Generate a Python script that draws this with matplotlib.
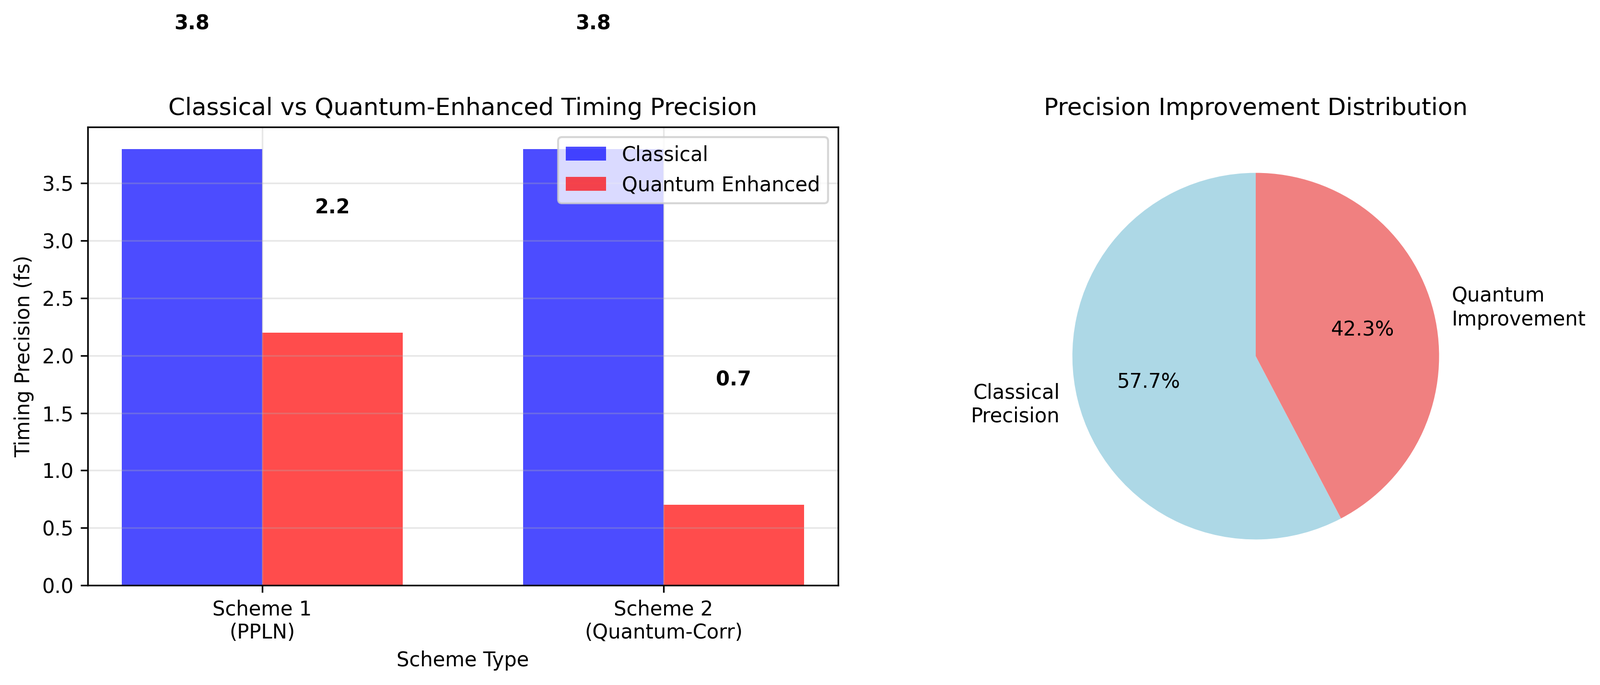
import matplotlib
matplotlib.use("Agg")
import matplotlib.pyplot as plt
import numpy as np

schemes = ["Scheme 1\n(PPLN)", "Scheme 2\n(Quantum-Corr)"]
classical = [3.8, 3.8]
quantum = [2.2, 0.7]
pie_labels = ["Classical\nPrecision", "Quantum\nImprovement"]
pie_values = [57.7, 42.3]
pie_colors = ["lightblue", "lightcoral"]

W, H = 3337, 1429
dpi = 300
fig = plt.figure(figsize=(W / dpi, H / dpi), dpi=dpi)

L, R, T, B = 183, 1748, 265, 1221
ax1 = fig.add_axes([L / W, 1 - B / H, (R - L) / W, (B - T) / H])
x = np.arange(len(schemes))
width = 0.35
b1 = ax1.bar(x - width / 2, classical, width, label="Classical", color="blue", alpha=0.7)
b2 = ax1.bar(x + width / 2, quantum, width, label="Quantum Enhanced", color="red", alpha=0.7)
for bars in (b1, b2):
    for bar in bars:
        h = bar.get_height()
        ax1.text(bar.get_x() + bar.get_width() / 2, h + 1.0, f"{h:.1f}",
                 ha="center", va="bottom", fontweight="bold", fontsize=10)
ax1.set_xticks(x)
ax1.set_xticklabels(schemes)
ax1.set_xlabel("Scheme Type")
ax1.set_ylabel("Timing Precision (fs)")
ax1.set_title("Classical vs Quantum-Enhanced Timing Precision", fontsize=12)
ax1.legend(loc="upper right")
ax1.grid(True, alpha=0.3)

cx = 2619
ax2 = fig.add_axes([(cx - 780) / W, 1 - B / H, 1560 / W, (B - T) / H])
ax2.pie(pie_values, labels=pie_labels, colors=pie_colors, autopct="%1.1f%%", startangle=90)
ax2.set_title("Precision Improvement Distribution", fontsize=12)

fig.savefig("out.png", dpi=dpi)
